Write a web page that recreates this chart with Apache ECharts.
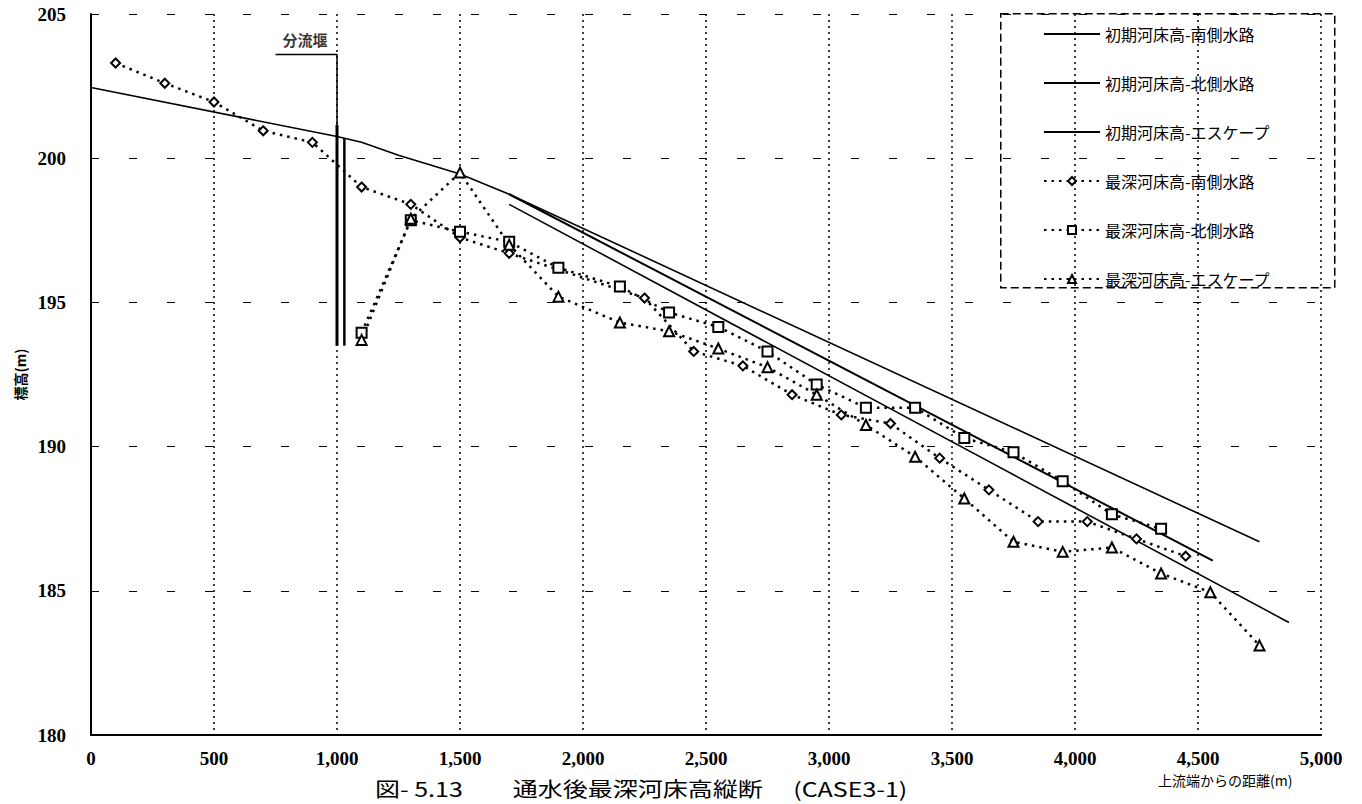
<!DOCTYPE html>
<html>
<head>
<meta charset="utf-8">
<script src="https://cdn.jsdelivr.net/npm/echarts@6/dist/echarts.min.js"></script>
<style>
  html, body { margin: 0; padding: 0; background: #fff; }
  #chart { width: 1362px; height: 804px; }
</style>
</head>
<body>
<div id="chart"></div>
<script>
// 縦断距離 (m) と河床高 (m)
// 初期河床高 (実線)
const initSouthX = [0, 1000, 1100, 1250, 1500, 1700, 4750];
const initSouthY = [202.45, 200.75, 200.55, 200.1, 199.45, 198.75, 186.7];
const initNorthX = [1700, 4560];
const initNorthY = [198.75, 186.05];
const initEscapeX = [1700, 4870];
const initEscapeY = [198.4, 183.9];

// 通水後最深河床高
const deepSouthX = [100, 300, 500, 700, 900, 1100, 1300, 1500, 1700, 2250, 2450, 2650, 2850, 3050, 3250, 3450, 3650, 3850, 4050, 4250, 4450];
const deepSouthY = [203.3, 202.6, 201.95, 200.95, 200.55, 199.0, 198.4, 197.25, 196.7, 195.15, 193.3, 192.8, 191.8, 191.1, 190.8, 189.6, 188.5, 187.4, 187.4, 186.8, 186.2];
const deepNorthX = [1100, 1300, 1500, 1700, 1900, 2150, 2350, 2550, 2750, 2950, 3150, 3350, 3550, 3750, 3950, 4150, 4350];
const deepNorthY = [193.95, 197.85, 197.45, 197.1, 196.2, 195.55, 194.65, 194.15, 193.3, 192.15, 191.35, 191.35, 190.3, 189.8, 188.8, 187.65, 187.15];
const deepEscapeX = [1100, 1300, 1500, 1700, 1900, 2150, 2350, 2550, 2750, 2950, 3150, 3350, 3550, 3750, 3950, 4150, 4350, 4550, 4750];
const deepEscapeY = [193.7, 197.9, 199.5, 197.0, 195.2, 194.3, 194.0, 193.4, 192.75, 191.8, 190.75, 189.65, 188.2, 186.7, 186.35, 186.5, 185.6, 184.95, 183.1];

// 分流堰
const weirX = [1000, 1030];
const weirTop = [201.15, 200.7];
const weirBottom = 193.5;
const weirLeaderX = [750, 1000, 1000];
const weirLeaderY = [203.6, 203.6, 201.15];
const weirLabel = '分流堰';
const weirLabelPos = [870, 204.1];

// 軸
const xMin = 0, xMax = 5000, xStep = 500;
const yMin = 180, yMax = 205, yStep = 5;

const seriesNames = [
  '初期河床高-南側水路', '初期河床高-北側水路', '初期河床高-エスケープ',
  '最深河床高-南側水路', '最深河床高-北側水路', '最深河床高-エスケープ'
];
const chartTitle = '図- 5.13　　通水後最深河床高縦断　 (CASE3-1)';
const xName = '上流端からの距離(m)';
const yName = '標高(m)';

const zip = (xs, ys) => xs.map((x, i) => [x, ys[i]]);

const JP = 'Noto Sans CJK JP';
const NUM = 'Liberation Serif';

const solid = (name, xs, ys, w) => ({
  name, type: 'line', data: zip(xs, ys),
  symbol: 'none', z: 3,
  lineStyle: { color: '#000', width: w, type: 'solid' },
  itemStyle: { color: '#000' }
});
const dotted = (name, xs, ys, sym, size) => ({
  name, type: 'line', data: zip(xs, ys),
  symbol: sym, symbolSize: size, z: 4,
  lineStyle: { color: '#000', width: 2.5, type: [2.5, 5] },
  itemStyle: { color: '#000', borderColor: '#000', borderWidth: 2 }
});

// 凡例: 実線系列は線のみ、最深河床高は記号付き点線
const legendData = seriesNames.map((name, i) => i < 3
  ? { name, itemStyle: { color: 'rgba(0,0,0,0)', borderColor: 'rgba(0,0,0,0)', borderWidth: 0 } }
  : { name });

const chart = echarts.init(document.getElementById('chart'), null, { renderer: 'svg' });

chart.setOption({
  animation: false,
  backgroundColor: '#fff',
  grid: { left: 91, right: 41, top: 14, bottom: 69 },
  legend: {
    data: legendData,
    orient: 'vertical',
    left: 1038, top: 21,
    itemWidth: 56, itemHeight: 10, itemGap: 33,
    textStyle: { fontFamily: JP, fontSize: 16, color: '#000' }
  },
  graphic: [
    {
      type: 'rect', left: 1000, top: 13, z: 0,
      shape: { width: 334, height: 274 },
      style: { fill: '#fff', stroke: '#000', lineWidth: 1.5, lineDash: [8, 4] }
    },
    {
      type: 'text', left: 1158, top: 773,
      style: { text: xName, font: '14px ' + JP, fill: '#000' }
    },
    {
      // 図番号と表題 (横長の字形)
      type: 'text', x: 375, y: 779, scaleX: 1.25, scaleY: 1,
      style: { text: chartTitle, font: '20px ' + JP, lineHeight: 20, fill: '#000', textVerticalAlign: 'top' }
    }
  ],
  xAxis: {
    type: 'value', min: xMin, max: xMax, interval: xStep,
    axisLine: { show: true, onZero: false, lineStyle: { color: '#000', width: 2 } },
    axisTick: { show: false },
    axisLabel: {
      margin: 14, color: '#000', fontFamily: NUM, fontSize: 19, fontWeight: 'bold',
      formatter: v => v.toLocaleString('en-US')
    },
    splitLine: { show: true, lineStyle: { color: '#000', width: 1.5, type: [2, 4] } }
  },
  yAxis: {
    type: 'value', min: yMin, max: yMax, interval: yStep,
    name: yName, nameLocation: 'middle', nameGap: 62, nameRotate: 90,
    nameTextStyle: { fontFamily: JP, fontSize: 14, fontWeight: 'bold', color: '#000' },
    axisLine: { show: true, onZero: false, lineStyle: { color: '#000', width: 2 } },
    axisTick: { show: false },
    axisLabel: { margin: 25, color: '#000', fontFamily: NUM, fontSize: 19, fontWeight: 'bold' },
    splitLine: { show: true, lineStyle: { color: '#000', width: 1.2, type: [8, 30] } }
  },
  series: [
    solid(seriesNames[0], initSouthX, initSouthY, 1.6),
    solid(seriesNames[1], initNorthX, initNorthY, 2),
    solid(seriesNames[2], initEscapeX, initEscapeY, 1.6),
    dotted(seriesNames[3], deepSouthX, deepSouthY, 'emptyDiamond', 9),
    dotted(seriesNames[4], deepNorthX, deepNorthY, 'emptyRect', 10),
    dotted(seriesNames[5], deepEscapeX, deepEscapeY, 'emptyTriangle', 10),
    // 分流堰の壁
    {
      name: 'weirA', type: 'line', symbol: 'none', z: 5, silent: true,
      data: [[weirX[0], weirBottom], [weirX[0], weirTop[0]]],
      lineStyle: { color: '#000', width: 3 }
    },
    {
      name: 'weirB', type: 'line', symbol: 'none', z: 5, silent: true,
      data: [[weirX[1], weirBottom], [weirX[1], weirTop[1]]],
      lineStyle: { color: '#000', width: 2.5 }
    },
    {
      name: 'weirLeader', type: 'line', symbol: 'none', z: 5, silent: true,
      data: zip(weirLeaderX, weirLeaderY),
      lineStyle: { color: '#000', width: 1.5 }
    },
    {
      name: 'weirLabel', type: 'scatter', symbolSize: 0, z: 6, silent: true,
      data: [weirLabelPos],
      label: {
        show: true, position: 'inside', formatter: weirLabel,
        fontFamily: JP, fontSize: 15, fontWeight: 'bold', color: '#000'
      }
    }
  ]
});
</script>
</body>
</html>
